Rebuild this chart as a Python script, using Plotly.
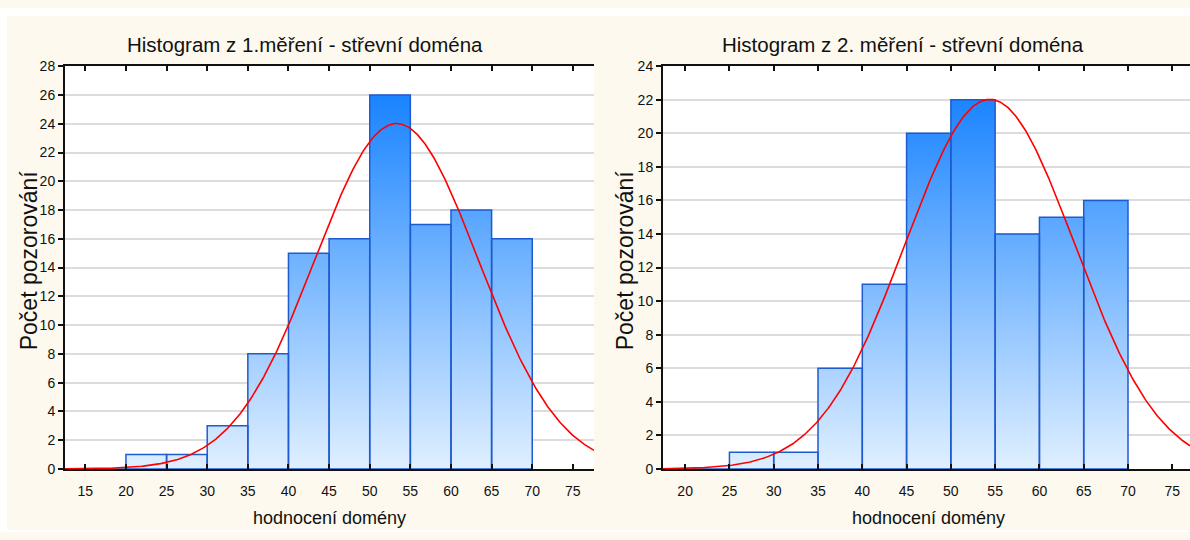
import numpy as np
import plotly.graph_objects as go

W, H = 1190, 540

# ---------------- data ----------------
bin_width = 5
left_edges = [15, 20, 25, 30, 35, 40, 45, 50, 55, 60, 65]
left_counts = [0, 1, 1, 3, 8, 15, 16, 26, 17, 18, 16]
left_mean, left_sd = 53.3, 10.05

right_edges = [20, 25, 30, 35, 40, 45, 50, 55, 60, 65]
right_counts = [0, 1, 1, 6, 11, 20, 22, 14, 15, 16]
right_mean, right_sd = 54.4, 9.6

left_xticks = [15, 20, 25, 30, 35, 40, 45, 50, 55, 60, 65, 70, 75]
right_xticks = [20, 25, 30, 35, 40, 45, 50, 55, 60, 65, 70, 75]
left_yticks = list(range(0, 29, 2))
right_yticks = list(range(0, 25, 2))

title_left = "Histogram z 1.měření - střevní doména"
title_right = "Histogram z 2. měření - střevní doména"
xlabel = "hodnocení domény"
ylabel = "Počet pozorování"

# ---------------- styling ----------------
CREAM = "#fdf9ee"
BAR_LINE = "#1f5bd0"
NARROW = "Liberation Sans Narrow, Arial Narrow, Liberation Sans, Arial, sans-serif"
REG = "Liberation Sans, Arial, sans-serif"

def px_x(p):
    return p / W

def px_y(p):
    return 1 - p / H

left_xrange = [12.5, 77.6]
right_xrange = [17.5, 77.0]
left_yrange = [0, 28]
right_yrange = [0, 24]

fig = go.Figure()

def add_hist(edges, counts, xa, ya, ymax):
    xs, ys = [], []
    for a, c in zip(edges, counts):
        b = a + bin_width
        xs += [a, a, b, b, a, None]
        ys += [0, c, c, 0, 0, None]
    fig.add_trace(go.Scatter(
        x=xs, y=ys, xaxis=xa, yaxis=ya, mode="lines", fill="toself",
        line=dict(color=BAR_LINE, width=1.5),
        fillgradient=dict(type="vertical",
                          colorscale=[[0, "#e6f3ff"], [1, "#0a7bff"]],
                          start=0, stop=ymax),
        hoverinfo="skip", showlegend=False))

def add_curve(edges, counts, mean, sd, xrange_, xa, ya):
    n = sum(counts)
    x = np.linspace(xrange_[0], xrange_[1], 400)
    y = n * bin_width / (sd * np.sqrt(2 * np.pi)) * np.exp(-0.5 * ((x - mean) / sd) ** 2)
    fig.add_trace(go.Scatter(x=x, y=y, xaxis=xa, yaxis=ya, mode="lines",
                             line=dict(color="#ff0000", width=1.6),
                             hoverinfo="skip", showlegend=False))

add_hist(left_edges, left_counts, "x", "y", left_yrange[1])
add_curve(left_edges, left_counts, left_mean, left_sd, left_xrange, "x", "y")
add_hist(right_edges, right_counts, "x2", "y2", right_yrange[1])
add_curve(right_edges, right_counts, right_mean, right_sd, right_xrange, "x2", "y2")

tickfont = dict(family=NARROW, size=14, color="#111111")

def xaxis(domain, rng, ticks, anchor):
    return dict(domain=domain, range=rng, tickvals=ticks, anchor=anchor,
                showline=True, linecolor="#111111", linewidth=2, mirror="ticks",
                ticks="inside", ticklen=5, tickwidth=1.5, tickcolor="#111111",
                showgrid=False, zeroline=False, tickfont=tickfont, ticklabelstandoff=8,
                fixedrange=True)

def yaxis(domain, rng, ticks, anchor, mirror):
    return dict(domain=domain, range=rng, tickvals=ticks, anchor=anchor,
                showline=True, linecolor="#111111", linewidth=2, mirror=mirror,
                ticks="outside", ticklen=5, tickwidth=1.5, tickcolor="#111111",
                showgrid=True, gridcolor="#dcdcdc", gridwidth=1.5,
                zeroline=False, tickfont=tickfont, fixedrange=True)

ydom = [px_y(475), px_y(60)]
left_xdom = [px_x(65), px_x(594)]
right_xdom = [px_x(663), 1.0]

fig.update_layout(
    width=W, height=H,
    margin=dict(l=0, r=0, t=0, b=0),
    paper_bgcolor=CREAM, plot_bgcolor="white",
    xaxis=xaxis(left_xdom, left_xrange, left_xticks, "y"),
    yaxis=yaxis(ydom, left_yrange, left_yticks, "x", False),
    xaxis2=xaxis(right_xdom, right_xrange, right_xticks, "y2"),
    yaxis2=yaxis(ydom, right_yrange, right_yticks, "x2", False),
    yaxis3=dict(overlaying="y", anchor="x", side="right", range=left_yrange,
                tickvals=left_yticks, showticklabels=False, showline=True,
                linecolor="#111111", linewidth=2, ticks="inside", ticklen=5,
                tickwidth=1.5, tickcolor="#111111", showgrid=False, zeroline=False,
                fixedrange=True),
    showlegend=False,
)

# white border strips (outside the cream panels)
fig.add_shape(type="rect", xref="paper", yref="paper", x0=0, x1=px_x(7), y0=0, y1=1,
              fillcolor="white", line_width=0, layer="below")
fig.add_shape(type="rect", xref="paper", yref="paper", x0=0, x1=1, y0=px_y(8), y1=1,
              fillcolor="white", line_width=0, layer="below")
fig.add_shape(type="rect", xref="paper", yref="paper", x0=0, x1=1, y0=0, y1=px_y(538),
              fillcolor="white", line_width=0, layer="below")

def ann(text, xp, yp, font, size, angle=0):
    fig.add_annotation(text=text, x=px_x(xp), y=px_y(yp), xref="paper", yref="paper",
                       showarrow=False, xanchor="center", yanchor="middle",
                       textangle=angle, font=dict(family=font, size=size, color="#111111"))

ann(title_left, 305, 38, NARROW, 20.5)
ann(title_right, 903, 38, NARROW, 20.5)
ann(xlabel, 329, 526, NARROW, 18)
ann(xlabel, 928, 526, NARROW, 18)
ann(ylabel, 29, 260, REG, 23, -90)
ann(ylabel, 625, 260, REG, 23, -90)

fig.write_html("out.html")
